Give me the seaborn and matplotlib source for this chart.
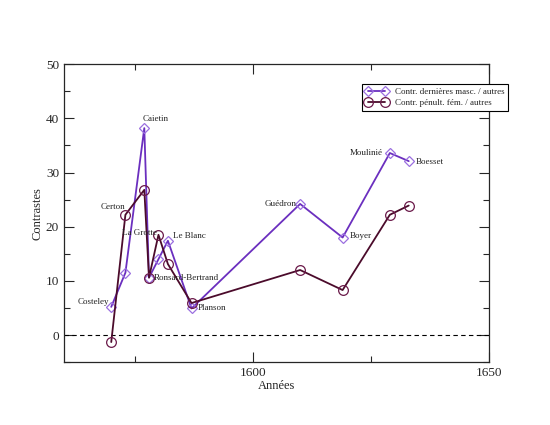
import seaborn as sns
import matplotlib.pyplot as plt
import pandas as pd
from matplotlib.ticker import MultipleLocator

sns.set_style("ticks")
plt.rcParams["font.family"] = ["Liberation Serif", "DejaVu Serif"]

# data
years = [1570, 1573, 1577, 1578, 1580, 1582, 1587, 1610, 1619, 1629, 1633]
masc = [5.2, 11.5, 38.2, 10.6, 14.0, 17.4, 4.9, 24.2, 18.0, 33.6, 32.1]
fem = [-1.3, 22.2, 26.8, 10.6, 18.5, 13.1, 5.9, 12.0, 8.3, 22.2, 23.9]
composers = ["Costeley", "Certon", "Caietin", "Ronsard-Bertrand", "La Grotte",
             "Le Blanc", "Planson", "Guédron", "Boyer", "Moulinié", "Boesset"]

# label anchors (year, value, alignment)
label_pos = [(1569.5, 6.1, "right"), (1573.0, 23.7, "right"), (1576.7, 39.8, "left"),
             (1579.0, 10.5, "left"), (1572.2, 18.9, "left"), (1583.0, 18.3, "left"),
             (1588.3, 4.9, "left"), (1609.2, 24.2, "right"), (1620.6, 18.2, "left"),
             (1627.5, 33.6, "right"), (1634.4, 32.0, "left")]

df = pd.DataFrame({"Année": years, "masc": masc, "fem": fem})

fig = plt.figure(figsize=(5.5, 4.25), dpi=100)
ax = fig.add_axes([0.1164, 0.148, 0.7727, 0.701])

ax.axhline(0, color="black", lw=0.8, ls=(0, (4, 3)), zorder=1)

sns.lineplot(data=df, x="Année", y="masc", ax=ax, color="#6b2fbf", lw=1.3,
             marker="D", markersize=5, markerfacecolor="none",
             markeredgecolor="#9b6fe0", markeredgewidth=0.9,
             label="Contr. dernières masc. / autres")
sns.lineplot(data=df, x="Année", y="fem", ax=ax, color="#4b0b2b", lw=1.3,
             marker="o", markersize=7, markerfacecolor="none",
             markeredgecolor="#6b1a4a", markeredgewidth=0.9,
             label="Contr. pénult. fém. / autres")

for name, (lx, ly, ha) in zip(composers, label_pos):
    ax.text(lx, ly, name, fontsize=6.5, ha=ha, va="center", color="#222222")

ax.set_xlim(1560, 1650)
ax.set_ylim(-5, 50)
ax.xaxis.set_major_locator(MultipleLocator(50))
ax.xaxis.set_minor_locator(MultipleLocator(25))
ax.yaxis.set_major_locator(MultipleLocator(10))
ax.yaxis.set_minor_locator(MultipleLocator(5))
ax.tick_params(which="both", direction="in", top=True, right=True, labelsize=9.5,
               width=0.8)
ax.tick_params(which="major", length=7)
ax.tick_params(which="minor", length=4.5)
for s in ax.spines.values():
    s.set_linewidth(0.9)

ax.set_xlabel("Années", fontsize=9, labelpad=1)
ax.set_ylabel("Contrastes", fontsize=9, labelpad=2)

leg = ax.legend(loc="upper left", bbox_to_anchor=(0.70, 0.932), fontsize=6.5,
                frameon=True, fancybox=False, edgecolor="black", framealpha=1,
                numpoints=2, handlelength=2.5, borderpad=0.4, labelspacing=0.3,
                borderaxespad=0)
leg.get_frame().set_linewidth(0.8)

plt.savefig("out.png", dpi=100)
